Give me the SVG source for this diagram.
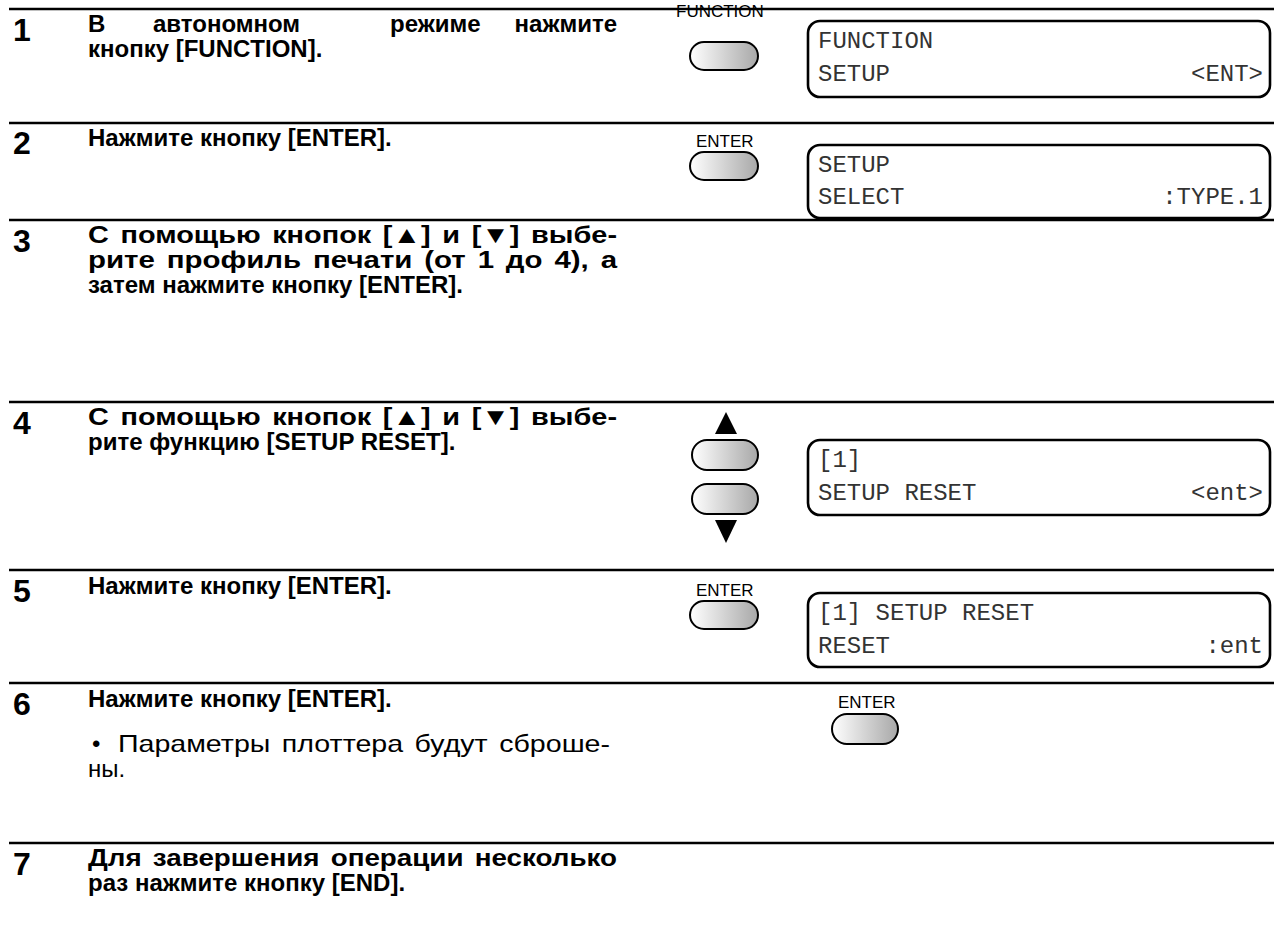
<svg xmlns="http://www.w3.org/2000/svg" width="1274" height="929" viewBox="0 0 1274 929">
<defs>
<linearGradient id="btnGrad" x1="0" y1="0" x2="1" y2="0">
<stop offset="0" stop-color="#ffffff"/>
<stop offset="1" stop-color="#a8a8a8"/>
</linearGradient>
<style>
.rule{stroke:#000;stroke-width:2.5}
.num{font-family:"Liberation Sans",Arial,sans-serif;font-weight:bold;font-size:32px;fill:#000}
.txt{font-family:"Liberation Sans",Arial,sans-serif;font-weight:bold;font-size:24px;fill:#000}
.reg{font-family:"Liberation Sans",Arial,sans-serif;font-size:24px;fill:#000}
.lbl{font-family:"Liberation Sans",Arial,sans-serif;font-size:17px;fill:#000}
.btn{fill:url(#btnGrad);stroke:#000;stroke-width:2}
.lcd{fill:#fff;stroke:#000;stroke-width:2.6}
.mono{font-family:"Liberation Mono","Courier New",monospace;font-size:24px;fill:#333}
.tri{fill:#000}
</style>
</defs>
<g id="rules">
<line class="rule" x1="9" y1="9" x2="1274" y2="9"/>
<line class="rule" x1="9" y1="123" x2="1274" y2="123"/>
<line class="rule" x1="9" y1="220" x2="1274" y2="220"/>
<line class="rule" x1="9" y1="402" x2="1274" y2="402"/>
<line class="rule" x1="9" y1="570" x2="1274" y2="570"/>
<line class="rule" x1="9" y1="683" x2="1274" y2="683"/>
<line class="rule" x1="9" y1="843" x2="1274" y2="843"/>
</g>
<g id="step1">
<text class="num" x="13" y="41">1</text>
<text class="txt" y="32"><tspan x="88">В</tspan><tspan x="153">автономном</tspan><tspan x="390">режиме</tspan></text>
<text class="txt" x="617" y="32" text-anchor="end">нажмите</text>
<text class="txt" x="88" y="57">кнопку [FUNCTION].</text>
<text class="lbl" x="676" y="17">FUNCTION</text>
<rect class="btn" x="690" y="42" width="68" height="28" rx="14"/>
<rect class="lcd" x="808" y="21" width="462" height="76" rx="12"/>
<text class="mono" x="818" y="48">FUNCTION</text>
<text class="mono" x="818" y="81">SETUP</text>
<text class="mono" x="1263" y="81" text-anchor="end">&lt;ENT&gt;</text>
</g>
<g id="step2">
<text class="num" x="13" y="154">2</text>
<text class="txt" x="88" y="146">Нажмите кнопку [ENTER].</text>
<text class="lbl" x="696" y="147">ENTER</text>
<rect class="btn" x="690" y="152" width="68" height="28" rx="14"/>
<rect class="lcd" x="808" y="145" width="462" height="73" rx="12"/>
<text class="mono" x="818" y="172">SETUP</text>
<text class="mono" x="818" y="204">SELECT</text>
<text class="mono" x="1263" y="204" text-anchor="end">:TYPE.1</text>
</g>
<g id="step3">
<text class="num" x="13" y="252">3</text>
<text class="txt" x="88" y="243" word-spacing="3" textLength="529" lengthAdjust="spacingAndGlyphs">С помощью кнопок [▲] и [▼] выбе-</text>
<text class="txt" x="88" y="268" word-spacing="3" textLength="529" lengthAdjust="spacingAndGlyphs">рите профиль печати (от 1 до 4), а</text>
<text class="txt" x="88" y="293">затем нажмите кнопку [ENTER].</text>
</g>
<g id="step4">
<text class="num" x="13" y="434">4</text>
<text class="txt" x="88" y="425" word-spacing="3" textLength="529" lengthAdjust="spacingAndGlyphs">С помощью кнопок [▲] и [▼] выбе-</text>
<text class="txt" x="88" y="450">рите функцию [SETUP RESET].</text>
<polygon class="tri" points="726,412 715,434 737,434"/>
<rect class="btn" x="692" y="440" width="66" height="30" rx="15"/>
<rect class="btn" x="692" y="484" width="66" height="30" rx="15"/>
<polygon class="tri" points="715,520 737,520 726,543"/>
<rect class="lcd" x="808" y="440" width="462" height="75" rx="12"/>
<text class="mono" x="818" y="467">[1]</text>
<text class="mono" x="818" y="500">SETUP RESET</text>
<text class="mono" x="1263" y="500" text-anchor="end">&lt;ent&gt;</text>
</g>
<g id="step5">
<text class="num" x="13" y="602">5</text>
<text class="txt" x="88" y="594">Нажмите кнопку [ENTER].</text>
<text class="lbl" x="696" y="596">ENTER</text>
<rect class="btn" x="690" y="601" width="68" height="28" rx="14"/>
<rect class="lcd" x="808" y="593" width="462" height="74" rx="12"/>
<text class="mono" x="818" y="620">[1] SETUP RESET</text>
<text class="mono" x="818" y="653">RESET</text>
<text class="mono" x="1263" y="653" text-anchor="end">:ent</text>
</g>
<g id="step6">
<text class="num" x="13" y="715">6</text>
<text class="txt" x="88" y="707">Нажмите кнопку [ENTER].</text>
<text class="reg" x="92" y="752">•</text>
<text class="reg" x="118" y="752" word-spacing="3" textLength="492" lengthAdjust="spacingAndGlyphs">Параметры плоттера будут сброше-</text>
<text class="reg" x="88" y="777">ны.</text>
<text class="lbl" x="838" y="708">ENTER</text>
<rect class="btn" x="832" y="714" width="66" height="30" rx="15"/>
</g>
<g id="step7">
<text class="num" x="13" y="875">7</text>
<text class="txt" x="88" y="866" word-spacing="3" textLength="529" lengthAdjust="spacingAndGlyphs">Для завершения операции несколько</text>
<text class="txt" x="88" y="891">раз нажмите кнопку [END].</text>
</g>
</svg>
